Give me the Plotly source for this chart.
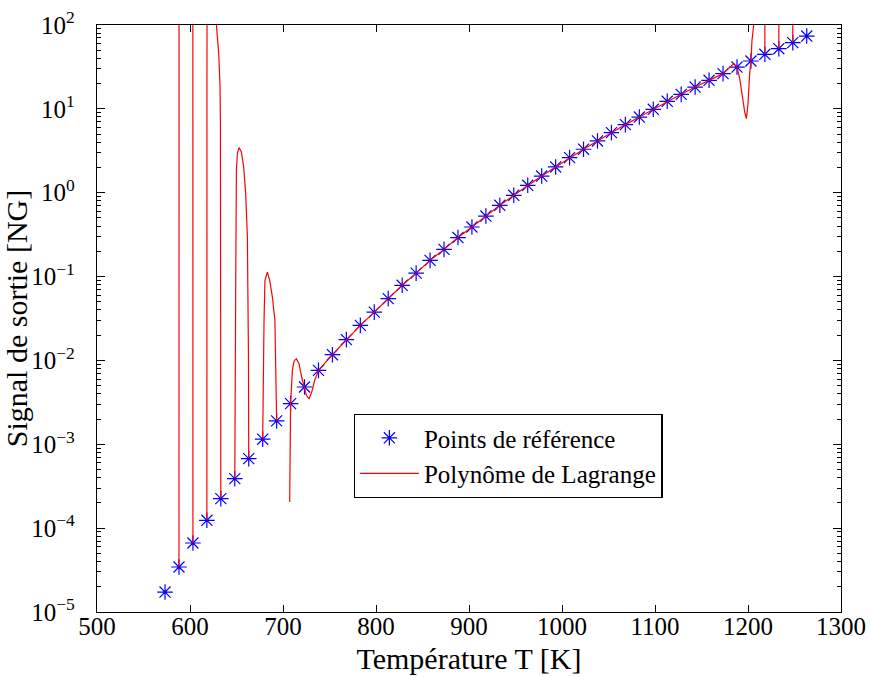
import plotly.graph_objects as go

# ---- reference points ----
T_ref = [573.15, 588.15, 603.15, 618.15, 633.15, 648.15, 663.15, 678.15, 693.15, 708.15,
         723.15, 738.15, 753.15, 768.15, 783.15, 798.15, 813.15, 828.15, 843.15, 858.15,
         873.15, 888.15, 903.15, 918.15, 933.15, 948.15, 963.15, 978.15, 993.15, 1008.15,
         1023.15, 1038.15, 1053.15, 1068.15, 1083.15, 1098.15, 1113.15, 1128.15, 1143.15, 1158.15,
         1173.15, 1188.15, 1203.15, 1218.15, 1233.15, 1248.15, 1263.15]
signal_ref = [1.73e-5, 3.44e-5, 6.65e-5, 1.24e-4, 2.25e-4, 3.90e-4, 6.75e-4, 1.15e-3, 1.90e-3, 3.05e-3,
              4.82e-3, 7.62e-3, 1.17e-2, 1.77e-2, 0.0262, 0.0377, 0.0546, 0.0787, 0.110, 0.156,
              0.211, 0.292, 0.390, 0.527, 0.708, 0.931, 1.225, 1.58, 2.03, 2.62,
              3.30, 4.14, 5.21, 6.49, 7.99, 9.88, 12.3, 14.9, 18.2, 21.9,
              26.3, 31.5, 37.2, 44.7, 52.2, 61.6, 73.8]

# ---- Lagrange polynomial curve (None = negative part, not drawn) ----
T_lag = [588.15, 588.25, 603.05, 603.15, None,
         618.15, 618.3, 627.5, 628.4, 630.9, 632.3, 632.7, 633.15, None,
         648.15, 648.3, 649.2, 649.9, 651.0, 652.7, 655.3, 657.7, 659.9, 661.7, 662.4, 662.9, 663.15, None,
         678.15, 678.6, 679.6, 680.6, 683.2, 685.7, 688.6, 691.3, 692.6, 693.15, None,
         707.2, 708.15, 710.1, 711.8, 714.4, 717.2, 720.1, 723.15, 725.2, 728.0, 730.9, 734.1, 738.15,
         753.15, 768.15, 783.15, 798.15, 813.15, 828.15, 843.15, 858.15, 873.15, 888.15,
         903.15, 918.15, 933.15, 948.15, 963.15, 978.15, 993.15, 1008.15, 1023.15, 1038.15,
         1053.15, 1068.15, 1083.15, 1098.15, 1113.15, 1128.15, 1143.15, 1158.15, 1173.15,
         1184.6, 1188.15, 1191.1, 1194.0, 1196.5, 1198.3, 1200.0, 1201.8, 1203.15, 1204.3, 1206.1,
         1208.0, 1218.0, 1218.15, None,
         1233.15, 1233.3, 1248.0, 1248.15]
signal_lag = [3.44e-5, 1e4, 1e4, 6.65e-5, None,
              1.24e-4, 1e4, 400, 100, 45.6, 18.2, 7.3, 2.25e-4, None,
              3.90e-4, 0.005, 0.1, 1.85, 2.93, 3.45, 3.06, 2.03, 0.975, 0.296, 0.075, 0.01, 6.75e-4, None,
              1.15e-3, 0.01, 0.03, 0.09, 0.113, 0.09, 0.057, 0.03, 0.005, 1.90e-3, None,
              2.05e-4, 3.05e-3, 7.6e-3, 9.8e-3, 0.0105, 9.16e-3, 6.3e-3, 4.82e-3, 3.84e-3, 3.51e-3, 4.2e-3, 5.8e-3, 7.62e-3,
              1.17e-2, 1.77e-2, 0.0262, 0.0377, 0.0546, 0.0787, 0.110, 0.156, 0.211, 0.292,
              0.390, 0.527, 0.708, 0.931, 1.225, 1.58, 2.03, 2.62, 3.30, 4.14,
              5.21, 6.49, 7.99, 9.88, 12.3, 14.9, 18.2, 21.9, 26.3,
              34.7, 31.5, 22.9, 13.8, 9.17, 7.65, 11.5, 26.3, 37.2, 65.7, 100,
              1e3, 1e4, 44.7, None,
              52.2, 1e4, 1e4, 61.6]

# ---- ticks ----
x_tick_vals = [500, 600, 700, 800, 900, 1000, 1100, 1200, 1300]
y_tick_vals = [1e-5, 1e-4, 1e-3, 1e-2, 1e-1, 1e0, 1e1, 1e2]
y_tick_text = ["10<sup>−5</sup>", "10<sup>−4</sup>", "10<sup>−3</sup>", "10<sup>−2</sup>",
               "10<sup>−1</sup>", "10<sup>0</sup>", "10<sup>1</sup>", "10<sup>2</sup>"]
y_minor_vals = [m * d for d in y_tick_vals[:-1] for m in range(2, 10)]

FONT = "Liberation Serif"

fig = go.Figure()
fig.add_trace(go.Scatter(
    x=T_ref, y=signal_ref, mode="markers", name="Points de référence",
    marker=dict(symbol="asterisk-open", size=13, color="blue",
                line=dict(color="blue", width=1.2))))
fig.add_trace(go.Scatter(
    x=T_lag, y=signal_lag, mode="lines", name="Polynôme de Lagrange",
    line=dict(color="red", width=1.2), connectgaps=False))

fig.update_layout(
    width=870, height=677,
    margin=dict(l=97, r=29, t=25, b=65, pad=0),
    paper_bgcolor="white", plot_bgcolor="white",
    font=dict(family=FONT, size=25, color="black"),
    showlegend=True,
    legend=dict(x=0.345, y=0.266, xanchor="left", yanchor="middle",
                bordercolor="black", borderwidth=1.2, bgcolor="white",
                font=dict(family=FONT, size=25), tracegroupgap=0, itemwidth=59),
)
fig.update_xaxes(
    range=[500, 1300], tickvals=x_tick_vals, ticks="inside", ticklen=7, tickwidth=1,
    tickcolor="black", showline=True, linecolor="black", linewidth=1.3, mirror="ticks",
    showgrid=False, zeroline=False, ticklabelstandoff=-8, automargin=False,
    title=dict(text="Température T [K]", standoff=8))
fig.update_yaxes(
    type="log", range=[-5, 2], tickvals=y_tick_vals, ticktext=y_tick_text,
    ticks="inside", ticklen=8, tickwidth=1, tickcolor="black",
    showline=True, linecolor="black", linewidth=1.3, mirror="ticks",
    showgrid=False, zeroline=False, ticklabelstandoff=16, automargin=False,
    minor=dict(ticks="inside", ticklen=4, tickwidth=1, tickcolor="black",
               tickvals=y_minor_vals, showgrid=False),
    title=dict(text="Signal de sortie [NG]", standoff=4))

fig.write_html("out.html")
